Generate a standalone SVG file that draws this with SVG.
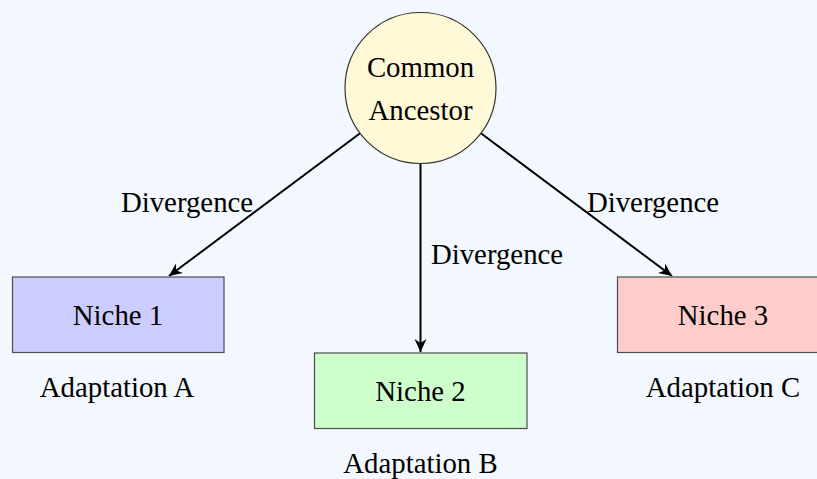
<svg xmlns="http://www.w3.org/2000/svg" width="817" height="479" viewBox="0 0 817 479">
<style>
text{font-family:"Liberation Serif","Times New Roman",serif;font-size:28.8px;fill:#000;text-anchor:middle}
.box{stroke:#4d4d4d;stroke-width:1.2}
.edge{stroke:#000;stroke-width:2;fill:none;marker-end:url(#arr)}
</style>
<defs>
<marker id="arr" markerUnits="userSpaceOnUse" viewBox="-14 -7 16 14" refX="0" refY="0" markerWidth="16" markerHeight="14" orient="auto">
<path d="M0,0 L-13,-6 L-9,0 L-13,6 Z" fill="#000"/>
</marker>
</defs>
<rect width="817" height="479" fill="#f3f7fe"/>
<g id="edges">
<line class="edge" x1="360.1" y1="133.3" x2="169" y2="276"/>
<line class="edge" x1="420.5" y1="163.5" x2="420.5" y2="352"/>
<line class="edge" x1="480.9" y1="133.3" x2="672" y2="276"/>
<text x="187" y="212">Divergence</text>
<text x="497" y="264">Divergence</text>
<text x="653" y="212">Divergence</text>
</g>
<g id="ancestor">
<circle cx="420.5" cy="88" r="75.5" fill="#fff9d8" stroke="#333" stroke-width="1.2"/>
<text x="420.5" y="76.5">Common</text>
<text x="420.5" y="120">Ancestor</text>
</g>
<g id="niche1">
<rect class="box" x="12.5" y="277" width="211.5" height="75.5" fill="#ccccff"/>
<text x="118" y="325">Niche 1</text>
<text x="117" y="397">Adaptation A</text>
</g>
<g id="niche2">
<rect class="box" x="314.5" y="353" width="212.5" height="75.5" fill="#ccffcc"/>
<text x="420.5" y="401">Niche 2</text>
<text x="420.5" y="472.5">Adaptation B</text>
</g>
<g id="niche3">
<rect class="box" x="617.5" y="277" width="211.5" height="75.5" fill="#ffcccc"/>
<text x="723" y="325">Niche 3</text>
<text x="723" y="397">Adaptation C</text>
</g>
</svg>
